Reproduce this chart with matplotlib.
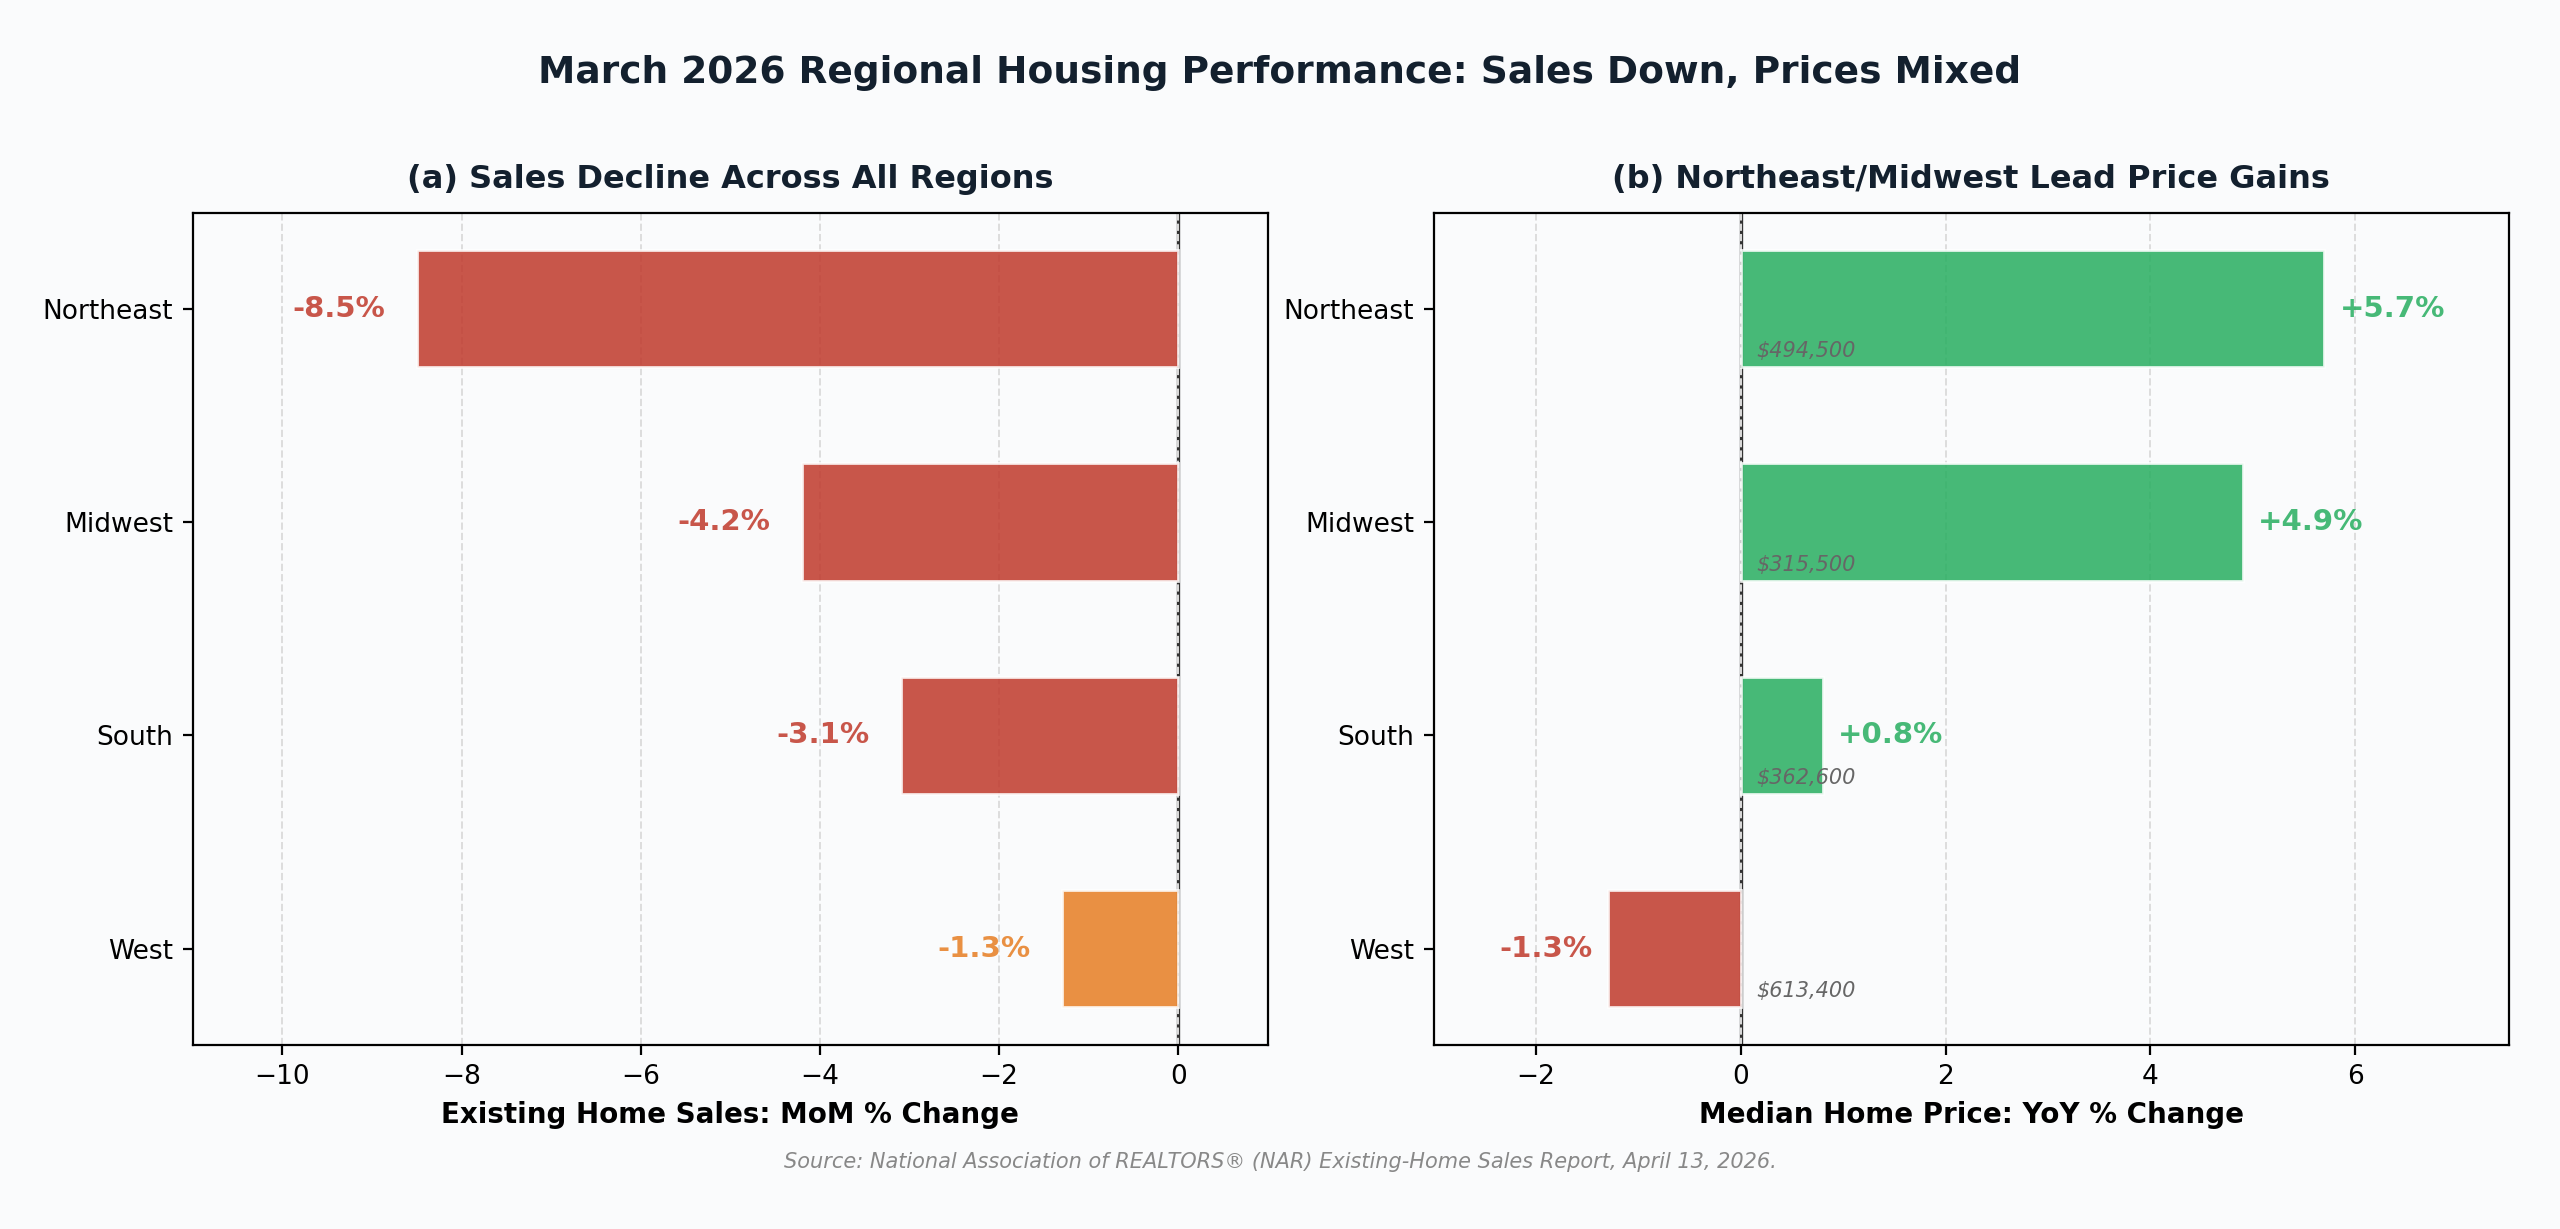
import matplotlib.pyplot as plt

regions = ["Northeast", "Midwest", "South", "West"]
sales_change = [-8.5, -4.2, -3.1, -1.3]
price_change = [5.7, 4.9, 0.8, -1.3]
median_price = ["$494,500", "$315,500", "$362,600", "$613,400"]

RED = "#C0392B"
ORANGE = "#E67E22"
GREEN = "#27AE60"
BG = "#FAFBFC"
DARK = "#13202E"

fig = plt.figure(figsize=(12.8, 6.145), dpi=200, facecolor=BG)
ax1 = fig.add_axes([0.0753, 0.150, 0.42, 0.677])
ax2 = fig.add_axes([0.56, 0.150, 0.42, 0.677])

pos = list(range(len(regions)))

# left panel: sales
sale_colors = [ORANGE if v > -2 else RED for v in sales_change]
ax1.barh(pos, sales_change, height=0.55, color=sale_colors, alpha=0.85,
         edgecolor="white", linewidth=1)
for p, v, c in zip(pos, sales_change, sale_colors):
    ax1.text(v - 0.35, p, f"{v:.1f}%", ha="right", va="center",
             fontsize=10.5, fontweight="bold", color=c, alpha=0.85)
ax1.set_xlim(-11, 1)
ax1.set_title("(a) Sales Decline Across All Regions", fontsize=11.5,
              fontweight="bold", color=DARK, pad=9)
ax1.set_xlabel("Existing Home Sales: MoM % Change", fontsize=10, fontweight="bold")

# right panel: prices
price_colors = [GREEN if v >= 0 else RED for v in price_change]
ax2.barh(pos, price_change, height=0.55, color=price_colors, alpha=0.85,
         edgecolor="white", linewidth=1)
for p, v, c, m in zip(pos, price_change, price_colors, median_price):
    if v >= 0:
        ax2.text(v + 0.15, p, f"+{v:.1f}%", ha="left", va="center",
                 fontsize=10.5, fontweight="bold", color=c, alpha=0.85)
    else:
        ax2.text(v - 0.15, p, f"{v:.1f}%", ha="right", va="center",
                 fontsize=10.5, fontweight="bold", color=c, alpha=0.85)
    ax2.text(0.15, p + 0.2, m, ha="left", va="center", fontsize=7.5,
             style="italic", color="#666666")
ax2.set_xlim(-3, 7.5)
ax2.set_title("(b) Northeast/Midwest Lead Price Gains", fontsize=11.5,
              fontweight="bold", color=DARK, pad=9)
ax2.set_xlabel("Median Home Price: YoY % Change", fontsize=10, fontweight="bold")

for ax in (ax1, ax2):
    ax.set_facecolor(BG)
    ax.set_yticks(pos)
    ax.set_yticklabels(regions, fontsize=9.5)
    ax.tick_params(axis="x", labelsize=9.5)
    ax.set_ylim(3.45, -0.45)
    ax.axvline(0, color="#333333", linewidth=1.2, zorder=0)
    ax.grid(axis="x", linestyle="--", color="#dddddd", linewidth=0.7)
    ax.set_axisbelow(True)

fig.suptitle("March 2026 Regional Housing Performance: Sales Down, Prices Mixed",
             fontsize=13.5, fontweight="bold", color=DARK, y=0.955)
fig.text(0.5, 0.05, "Source: National Association of REALTORS® (NAR) Existing-Home Sales Report, April 13, 2026.",
         ha="center", fontsize=7.5, style="italic", color="#888888")

fig.savefig("out.png", dpi=200, facecolor=BG)
